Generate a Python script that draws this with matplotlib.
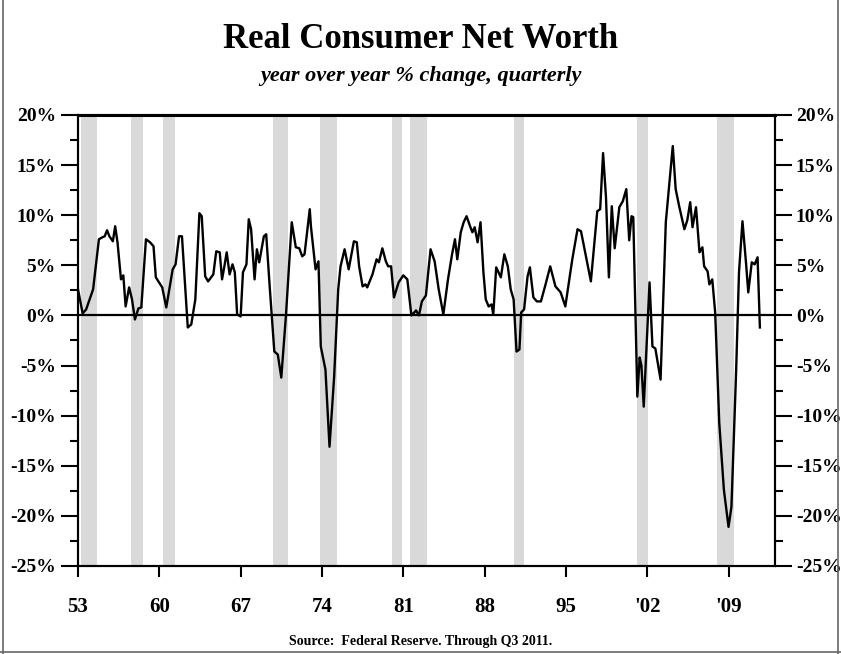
import matplotlib
matplotlib.use('Agg')
import matplotlib.pyplot as plt
from matplotlib.ticker import MultipleLocator, FixedLocator, FuncFormatter

# ---- data ----
dates = [1953.0, 1953.4, 1953.7, 1954.3, 1954.8, 1955.1, 1955.3, 1955.5, 1955.7, 1956.0,
         1956.2, 1956.4, 1956.7, 1956.9, 1957.1, 1957.4, 1957.65, 1957.9, 1958.2, 1958.45,
         1958.85, 1959.2, 1959.5, 1959.7, 1960.25, 1960.6, 1961.15, 1961.4, 1961.7, 1961.95,
         1962.45, 1962.75, 1963.1, 1963.45, 1963.65, 1963.95, 1964.2, 1964.65, 1964.9, 1965.2,
         1965.4, 1965.6, 1965.8, 1966.05, 1966.3, 1966.5, 1966.7, 1967.0, 1967.2, 1967.5,
         1967.7, 1967.9, 1968.2, 1968.4, 1968.6, 1969.0, 1969.2, 1969.5, 1969.9, 1970.2,
         1970.5, 1970.9, 1971.4, 1971.75, 1972.05, 1972.3, 1972.5, 1972.95, 1973.05, 1973.45,
         1973.7, 1973.9, 1974.3, 1974.65, 1975.05, 1975.4, 1975.6, 1975.95, 1976.3, 1976.75,
         1977.0, 1977.2, 1977.5, 1977.75, 1977.9, 1978.35, 1978.7, 1978.9, 1979.2, 1979.5,
         1979.7, 1979.95, 1980.2, 1980.6, 1981.0, 1981.35, 1981.7, 1981.95, 1982.1, 1982.35,
         1982.6, 1982.95, 1983.35, 1983.7, 1984.05, 1984.45, 1984.85, 1985.2, 1985.45, 1985.65,
         1985.95, 1986.2, 1986.45, 1986.75, 1986.95, 1987.15, 1987.4, 1987.65, 1987.9, 1988.1,
         1988.35, 1988.6, 1988.75, 1989.0, 1989.4, 1989.7, 1990.0, 1990.25, 1990.5, 1990.75,
         1991.0, 1991.15, 1991.4, 1991.7, 1991.9, 1992.2, 1992.5, 1992.85, 1993.25, 1993.65,
         1994.1, 1994.55, 1994.95, 1995.55, 1996.0, 1996.3, 1997.15, 1997.7, 1997.95, 1998.2,
         1998.45, 1998.7, 1998.95, 1999.2, 1999.6, 1999.9, 2000.2, 2000.45, 2000.65, 2000.8,
         2001.15, 2001.35, 2001.5, 2001.7, 2002.2, 2002.45, 2002.7, 2003.15, 2003.6, 2004.2,
         2004.45, 2004.75, 2005.2, 2005.45, 2005.7, 2005.9, 2006.2, 2006.5, 2006.75, 2006.9,
         2007.2, 2007.35, 2007.6, 2007.85, 2008.2, 2008.6, 2009.0, 2009.25, 2009.65, 2009.9,
         2010.2, 2010.5, 2010.7, 2011.0, 2011.25, 2011.5, 2011.7]
values = [2.6, 0.2, 0.6, 2.6, 7.6, 7.8, 7.9, 8.5, 7.9, 7.4,
          8.9, 7.3, 3.6, 4.0, 0.9, 2.8, 1.6, -0.4, 0.7, 0.8,
          7.6, 7.3, 6.9, 3.8, 2.8, 0.8, 4.6, 5.1, 7.9, 7.9,
          -1.2, -0.9, 1.6, 10.2, 9.9, 3.9, 3.4, 4.1, 6.4, 6.3,
          3.6, 4.9, 6.3, 4.1, 5.1, 4.3, 0.1, -0.1, 4.3, 5.1,
          9.6, 8.6, 3.6, 6.6, 5.3, 7.9, 8.1, 2.9, -3.6, -3.9,
          -6.2, 0.0, 9.3, 6.8, 6.7, 5.9, 6.1, 10.6, 8.9, 4.6,
          5.4, -3.1, -5.4, -13.1, -6.1, 2.6, 4.9, 6.6, 4.6, 7.4,
          7.3, 4.9, 2.9, 3.1, 2.8, 4.1, 5.6, 5.3, 6.7, 5.4,
          4.9, 4.9, 1.8, 3.3, 4.0, 3.6, 0.0, 0.3, 0.5, 0.0,
          1.4, 2.0, 6.6, 5.4, 2.6, 0.1, 3.6, 6.1, 7.6, 5.6,
          8.3, 9.3, 9.9, 8.9, 8.3, 8.8, 7.3, 9.3, 4.3, 1.6,
          0.9, 1.1, 0.1, 4.8, 3.8, 6.1, 4.9, 2.6, 1.6, -3.6,
          -3.4, 0.3, 0.6, 3.9, 4.8, 1.8, 1.4, 1.4, 3.1, 4.9,
          2.9, 2.3, 0.9, 5.6, 8.6, 8.4, 3.4, 10.4, 10.6, 16.2,
          11.8, 3.8, 10.9, 6.7, 10.8, 11.4, 12.6, 7.5, 9.9, 9.8,
          -8.1, -4.2, -5.0, -9.1, 3.3, -3.1, -3.3, -6.4, 9.3, 16.9,
          12.6, 10.9, 8.6, 9.5, 11.3, 8.8, 10.8, 6.3, 6.8, 4.9,
          4.4, 3.1, 3.6, 0.3, -10.7, -17.4, -21.1, -19.1, -5.7, 4.3,
          9.4, 5.3, 2.3, 5.3, 5.1, 5.8, -1.2]

recession_starts = [1953.3, 1957.6, 1960.35, 1969.8, 1973.85, 1980.0, 1981.6, 1990.5, 2001.1, 2008.0]
recession_ends = [1954.6, 1958.6, 1961.35, 1971.1, 1975.3, 1980.85, 1983.05, 1991.4, 2002.05, 2009.5]

xtick_years = [1953, 1960, 1967, 1974, 1981, 1988, 1995, 2002, 2009]
xtick_labels = ['53', '60', '67', '74', '81', '88', '95', "'02", "'09"]

title = 'Real Consumer Net Worth'
subtitle = 'year over year % change, quarterly'
source = 'Source:  Federal Reserve. Through Q3 2011.'

# ---- figure ----
plt.rcParams['font.family'] = ['Liberation Serif', 'DejaVu Serif']
fig = plt.figure(figsize=(8.41, 6.54), dpi=100)
ax = fig.add_axes([78 / 841, 1 - 566 / 654, (775 - 78) / 841, (566 - 115) / 654])

for s, e in zip(recession_starts, recession_ends):
    ax.axvspan(s, e, color='#d9d9d9', lw=0, zorder=0)

ax.axhline(0, color='black', lw=1.6, zorder=2)
ax.plot(dates, values, color='black', lw=1.7, zorder=3)

ax.set_xlim(1953, 2013)
ax.set_ylim(-25, 20)

pct = FuncFormatter(lambda v, p: f'{v:.0f}%')
ax.yaxis.set_major_locator(MultipleLocator(5))
ax.yaxis.set_minor_locator(MultipleLocator(2.5))
ax.yaxis.set_major_formatter(pct)
ax.xaxis.set_major_locator(FixedLocator(xtick_years))
ax.set_xticklabels(xtick_labels)

ax.tick_params(axis='y', which='major', direction='out', length=12, width=1.5,
               labelsize=14, pad=4)
ax.tick_params(axis='y', which='minor', direction='out', length=6, width=1.5)
ax.tick_params(axis='x', which='major', direction='out', length=8, width=1.5,
               labelsize=15, pad=14)

ax2 = ax.twinx()
ax2.set_ylim(-25, 20)
ax2.yaxis.set_major_locator(MultipleLocator(5))
ax2.yaxis.set_minor_locator(MultipleLocator(2.5))
ax2.yaxis.set_major_formatter(pct)
ax2.tick_params(axis='y', which='major', direction='out', length=12, width=1.5,
                labelsize=14, pad=3)
ax2.tick_params(axis='y', which='minor', direction='out', length=6, width=1.5)

for a in (ax, ax2):
    for sp in a.spines.values():
        sp.set_linewidth(1.5)
    for lab in a.get_yticklabels() + a.get_xticklabels():
        lab.set_fontweight('bold')
ax.spines['top'].set_linewidth(2.2)

fig.text(0.5, 1 - 40 / 654, title, ha='center', va='center', fontsize=25,
         fontweight='bold')
fig.text(0.5, 1 - 76 / 654, subtitle, ha='center', va='center', fontsize=16,
         fontweight='bold', style='italic')
fig.text(0.5, 1 - 641 / 654, source, ha='center', va='center', fontsize=10,
         fontweight='bold')

# figure frame
fig.add_artist(plt.Line2D([0.003, 0.003], [0, 1], transform=fig.transFigure,
                          color='#666666', lw=1.2))
fig.add_artist(plt.Line2D([0.997, 0.997], [0, 1], transform=fig.transFigure,
                          color='#666666', lw=1.2))
fig.add_artist(plt.Line2D([0, 1], [0.003, 0.003], transform=fig.transFigure,
                          color='#666666', lw=1.2))

fig.savefig('out.png', dpi=100)
